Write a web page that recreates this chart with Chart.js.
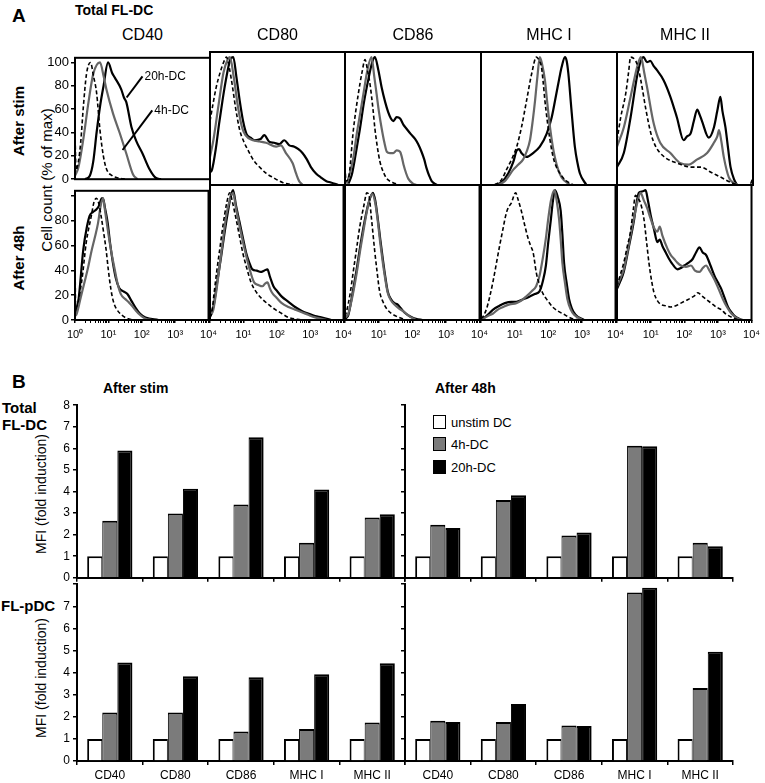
<!DOCTYPE html>
<html>
<head>
<meta charset="utf-8">
<script src="https://cdn.jsdelivr.net/npm/chart.js@4.4.1/dist/chart.umd.min.js"></script>
<style>
  body { margin: 0; background: #fff; }
  #fig { position: relative; width: 765px; height: 783px; overflow: hidden; background: #fff;
         font-family: 'Liberation Sans', Arial, sans-serif; color: #000; }
  #fig canvas { position: absolute; }
  .lbl { position: absolute; white-space: nowrap; line-height: 1; }
  .b { font-weight: bold; }
  .mid { transform: translate(-50%, -50%); }
  .left { transform: translate(0, -50%); }
  .rot { transform: translate(-50%, -50%) rotate(-90deg); }
  .key { position: absolute; width: 11px; height: 12px; border: 1.5px solid #000; }
</style>
</head>
<body>
<div id="fig">
  <div class="lbl b left" style="left:12px; top:15px; font-size:19px;">A</div>
  <div class="lbl b left" style="left:75px; top:10px; font-size:14px;">Total FL-DC</div>
  <div class="lbl b rot" style="left:18px; top:121px; font-size:15px;">After stim</div>
  <div class="lbl b rot" style="left:18px; top:258px; font-size:15px;">After 48h</div>
  <div class="lbl rot" style="left:46px; top:180px; font-size:15px;">Cell count (% of max)</div>

  <div class="lbl b left" style="left:12px; top:381px; font-size:19px;">B</div>
  <div class="lbl b left" style="left:103px; top:388px; font-size:14px;">After stim</div>
  <div class="lbl b left" style="left:435px; top:388px; font-size:14px;">After 48h</div>
  <div class="lbl b left" style="left:2px; top:407px; font-size:15px;">Total</div>
  <div class="lbl b left" style="left:2px; top:424px; font-size:15px;">FL-DC</div>
  <div class="lbl b left" style="left:1px; top:605px; font-size:15px;">FL-pDC</div>
  <div class="lbl rot" style="left:41px; top:494px; font-size:14px;">MFI (fold induction)</div>
  <div class="lbl rot" style="left:41px; top:678px; font-size:14px;">MFI (fold induction)</div>

  <div class="key" style="left:433px; top:415px; background:#fff;"></div>
  <div class="key" style="left:433px; top:437px; background:#7b7b7b;"></div>
  <div class="key" style="left:433px; top:460px; background:#000;"></div>
  <div class="lbl left" style="left:451px; top:422px; font-size:13px;">unstim DC</div>
  <div class="lbl left" style="left:451px; top:444px; font-size:13px;">4h-DC</div>
  <div class="lbl left" style="left:451px; top:467px; font-size:13px;">20h-DC</div>
</div>

<script>
// ---- shared labels ----
const markers = ['CD40', 'CD80', 'CD86', 'MHC I', 'MHC II'];
const decadeLabels = ['10⁰', '10¹', '10²', '10³', '10⁴'];
const histYTicks = [0, 20, 40, 60, 80, 100];
const mfiTicks = [0, 1, 2, 3, 4, 5, 6, 7, 8];

// ---- A: histograms, [log10 intensity, % of max] ----
// after stim
const stimCD40Unstim = [[0,40],[0.03,8],[0.1,15],[0.17,32],[0.25,63],[0.34,90],[0.46,100],[0.55,88],[0.64,74],[0.74,42],[0.84,20],[0.93,9],[1.1,3],[1.3,1],[1.5,0]];
const stimCD40_4h = [[0,3],[0.1,10],[0.25,35],[0.4,66],[0.54,90],[0.74,100],[0.85,88],[0.93,77],[1.13,56],[1.32,40],[1.52,22],[1.72,4],[1.85,0]];
const stimCD40_20h = [[0.3,0],[0.44,3],[0.54,15],[0.64,40],[0.74,62],[0.84,79],[0.98,100],[1.1,91],[1.18,87],[1.37,77],[1.45,70],[1.52,66],[1.67,45],[1.81,33],[2.0,22],[2.2,9],[2.4,1],[2.55,0]];

const stimCD80Unstim = [[0,50],[0.08,62],[0.18,76],[0.3,88],[0.42,97],[0.49,100],[0.57,92],[0.66,78],[0.76,60],[0.88,43],[1.0,34],[1.13,27],[1.3,19],[1.47,14],[1.67,9],[1.86,6],[2.15,2],[2.5,0]];
const stimCD80_4h = [[0,22],[0.1,35],[0.25,62],[0.4,88],[0.52,98],[0.59,100],[0.7,85],[0.83,61],[0.95,45],[1.05,39],[1.27,35],[1.47,34],[1.66,33],[1.96,30],[2.1,31],[2.25,25],[2.45,17],[2.55,9],[2.64,3],[2.75,0]];
const stimCD80_20h = [[0,10],[0.06,12],[0.17,28],[0.27,48],[0.37,66],[0.47,82],[0.6,98],[0.69,100],[0.78,85],[0.88,66],[0.98,50],[1.08,40],[1.2,37],[1.32,35],[1.5,36],[1.61,39],[1.75,34],[1.9,33],[2.05,32],[2.2,35],[2.35,31],[2.5,30],[2.62,28],[2.74,25],[2.87,20],[2.99,14],[3.14,9],[3.28,6],[3.45,3],[3.58,2],[3.8,0]];

const stimCD86Unstim = [[0,14],[0.03,3],[0.1,5],[0.25,44],[0.39,71],[0.5,88],[0.59,98],[0.66,90],[0.74,78],[0.82,60],[0.88,44],[0.95,30],[1.03,18],[1.13,10],[1.23,5],[1.4,2],[1.6,0]];
const stimCD86_4h = [[0.05,1],[0.15,10],[0.25,22],[0.34,39],[0.44,55],[0.54,71],[0.66,90],[0.78,100],[0.86,85],[0.93,71],[1.0,57],[1.08,44],[1.16,33],[1.23,26],[1.32,25],[1.42,25],[1.52,27],[1.62,26],[1.67,22],[1.72,16],[1.8,9],[1.86,5],[2.0,1],[2.1,0]];
const stimCD86_20h = [[0.1,1],[0.2,8],[0.32,25],[0.44,44],[0.56,65],[0.69,83],[0.8,96],[0.88,100],[0.98,90],[1.08,76],[1.18,65],[1.27,57],[1.35,52],[1.42,50],[1.52,53],[1.62,52],[1.72,47],[1.81,44],[1.93,40],[2.06,36],[2.15,32],[2.25,26],[2.33,20],[2.4,13],[2.48,7],[2.55,3],[2.7,0]];

const stimMHCIUnstim = [[0.4,0],[0.6,4],[0.75,12],[0.9,20],[1.05,30],[1.19,45],[1.34,66],[1.49,87],[1.63,100],[1.72,97],[1.78,92],[1.83,80],[1.88,66],[1.95,50],[2.03,35],[2.12,22],[2.22,14],[2.35,8],[2.47,4],[2.72,0]];
const stimMHCI_4h = [[0.5,0],[0.7,3],[0.95,12],[1.1,16],[1.24,20],[1.34,26],[1.44,35],[1.52,50],[1.59,66],[1.66,85],[1.73,100],[1.8,94],[1.88,82],[1.95,64],[2.03,45],[2.1,32],[2.17,22],[2.27,12],[2.37,6],[2.62,0]];
const stimMHCI_20h = [[0.4,0],[0.6,2],[0.8,9],[0.95,18],[1.05,27],[1.12,28],[1.19,25],[1.34,22],[1.53,25],[1.73,30],[1.93,40],[2.08,53],[2.22,72],[2.3,83],[2.37,92],[2.47,100],[2.52,97],[2.57,87],[2.66,59],[2.76,30],[2.84,17],[2.91,9],[3.1,0]];

const stimMHCIIUnstim = [[0,35],[0.11,53],[0.26,72],[0.34,88],[0.4,100],[0.55,97],[0.62,92],[0.7,82],[0.85,59],[1.0,40],[1.14,30],[1.39,22],[1.78,17],[2.18,14],[2.47,14],[2.76,10],[3.06,6],[3.35,2],[3.65,0],[3.9,0],[4,6]];
const stimMHCII_4h = [[0,30],[0.2,45],[0.4,69],[0.59,92],[0.7,100],[0.74,97],[0.8,88],[0.88,77],[1.08,48],[1.27,33],[1.57,25],[1.87,17],[2.11,16],[2.36,20],[2.65,25],[2.85,33],[2.95,38],[3.0,43],[3.07,34],[3.14,22],[3.29,6],[3.53,0]];
const stimMHCII_20h = [[0,14],[0.2,25],[0.4,53],[0.59,85],[0.7,97],[0.78,100],[0.88,96],[0.98,97],[1.08,93],[1.17,90],[1.37,82],[1.57,69],[1.76,53],[1.96,35],[2.06,38],[2.16,40],[2.26,50],[2.36,59],[2.43,55],[2.5,50],[2.7,37],[2.85,45],[2.95,58],[3.04,69],[3.1,58],[3.19,45],[3.27,28],[3.34,14],[3.45,4],[3.53,0]];

// after 48h
const lateCD40Unstim = [[0,47],[0.02,10],[0.2,31],[0.34,63],[0.49,84],[0.57,95],[0.64,98],[0.72,93],[0.78,84],[0.86,70],[0.93,57],[1.0,40],[1.08,24],[1.15,15],[1.22,10],[1.4,4],[1.6,1],[1.9,0]];
const lateCD40_4h = [[0,3],[0.05,5],[0.17,18],[0.29,31],[0.39,42],[0.49,55],[0.59,66],[0.69,78],[0.77,92],[0.84,98],[0.9,88],[0.98,73],[1.08,56],[1.18,42],[1.27,30],[1.37,21],[1.5,17],[1.62,14],[1.72,11],[1.81,8],[1.95,4],[2.11,1],[2.3,0]];
const lateCD40_20h = [[0,5],[0.1,15],[0.25,57],[0.35,74],[0.44,84],[0.54,87],[0.64,89],[0.72,92],[0.8,98],[0.84,98],[0.9,90],[0.98,78],[1.05,62],[1.13,47],[1.22,34],[1.32,26],[1.45,23],[1.57,21],[1.7,15],[1.81,10],[1.95,5],[2.11,2],[2.5,0]];

const lateCD80Unstim = [[0,2],[0.05,5],[0.12,20],[0.2,37],[0.3,56],[0.39,73],[0.5,90],[0.59,98],[0.68,90],[0.78,78],[0.88,65],[0.98,52],[1.1,40],[1.23,29],[1.4,21],[1.57,16],[1.75,12],[1.96,8],[2.15,5],[2.35,2],[2.75,0]];
const lateCD80_4h = [[0,3],[0.1,8],[0.2,24],[0.29,42],[0.39,62],[0.49,81],[0.6,93],[0.69,98],[0.78,86],[0.88,73],[0.98,61],[1.08,50],[1.2,38],[1.32,29],[1.45,27],[1.57,26],[1.65,28],[1.72,29],[1.8,24],[1.86,21],[2.0,17],[2.15,13],[2.35,10],[2.55,8],[2.75,6],[2.94,4],[3.15,2],[3.33,1],[3.5,0]];
const lateCD80_20h = [[0,4],[0.1,10],[0.22,30],[0.34,50],[0.44,68],[0.54,84],[0.62,95],[0.69,100],[0.78,88],[0.88,76],[0.98,64],[1.08,52],[1.18,44],[1.27,39],[1.4,38],[1.52,37],[1.62,38],[1.72,39],[1.8,33],[1.9,26],[2.02,22],[2.15,18],[2.35,14],[2.55,10],[2.75,7],[2.94,5],[3.15,3],[3.33,2],[3.63,0]];

const lateCD86Unstim = [[0,3],[0.05,7],[0.15,20],[0.25,38],[0.35,56],[0.44,72],[0.56,88],[0.65,98],[0.72,95],[0.78,80],[0.83,67],[0.88,54],[0.95,38],[1.03,22],[1.13,14],[1.23,9],[1.38,5],[1.52,3],[1.81,0]];
const lateCD86_4h = [[0.02,2],[0.1,5],[0.22,18],[0.34,35],[0.46,55],[0.59,75],[0.7,90],[0.81,97],[0.9,90],[0.98,75],[1.05,59],[1.13,43],[1.2,31],[1.27,21],[1.37,15],[1.47,12],[1.6,9],[1.72,7],[1.91,3],[2.11,0]];
const lateCD86_20h = [[0.02,1],[0.1,4],[0.22,20],[0.34,38],[0.46,58],[0.59,77],[0.7,90],[0.83,98],[0.9,92],[0.98,77],[1.05,62],[1.13,46],[1.2,33],[1.27,22],[1.37,16],[1.47,13],[1.56,12],[1.66,9],[1.76,6],[1.86,4],[2.0,2],[2.11,1],[2.3,0]];

const lateMHCIUnstim = [[0,1],[0.07,3],[0.17,9],[0.26,18],[0.36,30],[0.46,44],[0.56,58],[0.66,71],[0.73,80],[0.8,86],[0.9,90],[1.03,98],[1.1,93],[1.2,84],[1.3,73],[1.4,63],[1.48,57],[1.55,52],[1.6,44],[1.64,37],[1.73,28],[1.83,21],[1.98,15],[2.13,10],[2.28,7],[2.42,5],[2.72,1],[2.9,0]];
const lateMHCI_4h = [[0.02,0],[0.07,1],[0.2,3],[0.36,5],[0.5,8],[0.66,10],[0.85,12],[1.05,13],[1.2,15],[1.34,18],[1.5,22],[1.64,26],[1.74,34],[1.84,48],[1.93,63],[2.0,78],[2.08,92],[2.18,100],[2.25,92],[2.32,78],[2.37,62],[2.42,44],[2.5,28],[2.57,16],[2.67,8],[2.77,4],[3.01,0]];
const lateMHCI_20h = [[0.02,0],[0.07,1],[0.2,4],[0.36,8],[0.55,11],[0.71,13],[0.9,14],[1.05,14],[1.25,16],[1.44,18],[1.6,20],[1.74,22],[1.84,30],[1.93,42],[2.0,60],[2.08,78],[2.14,92],[2.2,100],[2.28,95],[2.37,84],[2.42,66],[2.47,44],[2.55,28],[2.62,16],[2.7,9],[2.81,4],[3.06,0]];

const lateMHCIIUnstim = [[0,26],[0.1,35],[0.2,44],[0.3,56],[0.4,68],[0.48,84],[0.55,96],[0.62,94],[0.7,90],[0.8,78],[0.88,60],[0.95,44],[1.03,30],[1.1,21],[1.2,15],[1.3,12],[1.45,11],[1.6,10],[1.75,11],[1.9,13],[2.05,15],[2.2,17],[2.32,19],[2.4,21],[2.47,20],[2.55,18],[2.65,16],[2.8,13],[2.95,10],[3.1,8],[3.22,5],[3.34,3],[3.6,0]];
const lateMHCII_4h = [[0,26],[0.1,32],[0.2,39],[0.35,58],[0.5,78],[0.6,90],[0.7,98],[0.8,92],[0.9,86],[1.0,78],[1.1,71],[1.2,68],[1.27,72],[1.35,65],[1.5,55],[1.6,50],[1.7,47],[1.8,44],[1.9,42],[2.05,41],[2.2,42],[2.32,38],[2.45,37],[2.55,40],[2.65,42],[2.75,38],[2.9,31],[3.02,24],[3.15,16],[3.27,10],[3.4,5],[3.6,1],[3.75,0]];
const lateMHCII_20h = [[0,24],[0.1,30],[0.2,37],[0.35,56],[0.5,76],[0.58,90],[0.65,98],[0.75,99],[0.85,100],[0.92,92],[1.0,81],[1.1,70],[1.2,60],[1.27,62],[1.35,57],[1.45,52],[1.55,47],[1.65,43],[1.8,39],[1.9,40],[2.0,42],[2.12,44],[2.25,47],[2.35,52],[2.45,56],[2.55,52],[2.65,50],[2.78,42],[2.9,34],[3.0,29],[3.1,24],[3.2,17],[3.3,10],[3.4,6],[3.5,3],[3.7,0]];

// callouts in the CD40 "after stim" panel, in data units
const callouts = [
  { text: '20h-DC', from: [1.53, 70], to: [2.0, 88] },
  { text: '4h-DC', from: [1.41, 25], to: [2.29, 59] }
];

// ---- B: MFI fold induction ----
const unstim = [1, 1, 1, 1, 1];
const totalStim4h = [2.65, 2.98, 3.4, 1.62, 2.79];
const totalStim20h = [5.9, 4.13, 6.52, 4.09, 2.94];
const totalLate4h = [2.46, 3.61, 1.96, 6.12, 1.62];
const totalLate20h = [2.31, 3.83, 2.1, 6.1, 1.46];
const pdcStim4h = [2.19, 2.19, 1.34, 1.45, 1.74];
const pdcStim20h = [4.46, 3.83, 3.79, 3.93, 4.42];
const pdcLate4h = [1.82, 1.76, 1.61, 7.62, 3.3];
const pdcLate20h = [1.77, 2.58, 1.58, 7.84, 4.94];

// ---- layout ----
const fig = document.getElementById('fig');
const colEdges = [75, 210, 345, 481, 617, 753];
const rowEdges = [52, 185, 320];

function addCanvas(left, top, width, height) {
  const c = document.createElement('canvas');
  c.width = width;
  c.height = height;
  c.style.left = left + 'px';
  c.style.top = top + 'px';
  c.style.width = width + 'px';
  c.style.height = height + 'px';
  fig.appendChild(c);
  return c;
}

const toXY = (pts) => pts.map(([x, y]) => ({ x, y }));

// minor log ticks inside each decade
const xTickValues = [];
for (let n = 0; n < 4; n++) {
  for (let k = 1; k < 10; k++) xTickValues.push(n + Math.log10(k));
}
xTickValues.push(4);

const frame = {
  id: 'frame',
  afterDatasetsDraw(chart) {
    const { ctx, chartArea: a } = chart;
    ctx.save();
    ctx.strokeStyle = '#000';
    ctx.lineWidth = 2;
    ctx.strokeRect(a.left, a.top, a.right - a.left, a.bottom - a.top);
    ctx.restore();
  }
};

const calloutPlugin = {
  id: 'callouts',
  afterDatasetsDraw(chart, args, opts) {
    if (!opts.items) return;
    const { ctx, scales: { x, y } } = chart;
    ctx.save();
    ctx.strokeStyle = '#000';
    ctx.fillStyle = '#000';
    ctx.lineWidth = 2;
    ctx.font = '12px "Liberation Sans", Arial, sans-serif';
    ctx.textBaseline = 'middle';
    opts.items.forEach((c) => {
      const x1 = x.getPixelForValue(c.from[0]), y1 = y.getPixelForValue(c.from[1]);
      const x2 = x.getPixelForValue(c.to[0]), y2 = y.getPixelForValue(c.to[1]);
      ctx.beginPath();
      ctx.moveTo(x1, y1);
      ctx.lineTo(x2, y2);
      ctx.stroke();
      ctx.fillText(c.text, x2 + 2, y2);
    });
    ctx.restore();
  }
};

function makeHistogram(row, col, curves, items) {
  const showY = col === 0, showX = row === 1;
  const padL = showY ? 40 : 10;
  const padR = 12, padT = 4;
  const padB = showX ? 24 : 4;
  const w = colEdges[col + 1] - colEdges[col];
  const h = rowEdges[row + 1] - rowEdges[row];
  const canvas = addCanvas(colEdges[col] - padL, rowEdges[row] - padT, w + padL + padR, h + padT + padB);

  new Chart(canvas, {
    type: 'line',
    data: {
      datasets: [
        { data: toXY(curves[0]), borderColor: '#000', borderWidth: 1.6, borderDash: [4, 2.5] },
        { data: toXY(curves[1]), borderColor: '#666', borderWidth: 2.2 },
        { data: toXY(curves[2]), borderColor: '#000', borderWidth: 2.2 }
      ]
    },
    options: {
      responsive: false,
      animation: false,
      layout: { padding: { left: showY ? 0 : padL, right: padR, top: padT, bottom: showX ? 0 : padB } },
      elements: { point: { radius: 0 }, line: { cubicInterpolationMode: 'monotone' } },
      plugins: { legend: { display: false }, tooltip: { enabled: false }, callouts: { items } },
      scales: {
        x: {
          type: 'linear', min: 0, max: 4, display: showX,
          afterFit: (s) => { s.height = showX ? padB : 0; },
          afterBuildTicks: (s) => { s.ticks = xTickValues.map((v) => ({ value: v })); },
          grid: {
            drawOnChartArea: false, tickLength: 3, color: '#000',
            lineWidth: (ctx) => (ctx.tick && Number.isInteger(ctx.tick.value) ? 1.5 : 1)
          },
          border: { display: false },
          ticks: {
            autoSkip: false, maxRotation: 0, padding: 5, color: '#000',
            font: { size: 11, family: 'Liberation Sans' },
            callback: (v) => (Number.isInteger(v) && (v > 0 || col === 0) ? decadeLabels[v] : '')
          }
        },
        y: {
          min: 0, max: 104, display: showY,
          afterFit: (s) => { s.width = showY ? padL : 0; },
          afterBuildTicks: (s) => { s.ticks = histYTicks.map((v) => ({ value: v })); },
          grid: { drawOnChartArea: false, tickLength: 4, color: '#000', lineWidth: 1.5 },
          border: { display: false },
          ticks: {
            padding: 2, color: '#000', font: { size: 13, family: 'Liberation Sans' },
            callback: (v) => (row === 1 && v === 100 ? '' : v)
          }
        }
      }
    },
    plugins: [frame, calloutPlugin]
  });
}

const histRows = [
  [
    [stimCD40Unstim, stimCD40_4h, stimCD40_20h],
    [stimCD80Unstim, stimCD80_4h, stimCD80_20h],
    [stimCD86Unstim, stimCD86_4h, stimCD86_20h],
    [stimMHCIUnstim, stimMHCI_4h, stimMHCI_20h],
    [stimMHCIIUnstim, stimMHCII_4h, stimMHCII_20h]
  ],
  [
    [lateCD40Unstim, lateCD40_4h, lateCD40_20h],
    [lateCD80Unstim, lateCD80_4h, lateCD80_20h],
    [lateCD86Unstim, lateCD86_4h, lateCD86_20h],
    [lateMHCIUnstim, lateMHCI_4h, lateMHCI_20h],
    [lateMHCIIUnstim, lateMHCII_4h, lateMHCII_20h]
  ]
];

histRows.forEach((curvesByCol, row) => {
  curvesByCol.forEach((curves, col) => {
    makeHistogram(row, col, curves, row === 0 && col === 0 ? callouts : null);
  });
});

// column headers
markers.forEach((m, i) => {
  const d = document.createElement('div');
  d.className = 'lbl mid';
  d.style.left = (colEdges[i] + colEdges[i + 1]) / 2 + 'px';
  d.style.top = '35px';
  d.style.fontSize = '16px';
  d.textContent = m;
  fig.appendChild(d);
});

// ---- B: bar panels ----
const barEdges = { left: [77, 405], top: [403, 582] };

function makeBars(row, col, vals4h, vals20h) {
  const plotW = 328, plotH = 179;
  const padL = col === 0 ? 50 : 10;
  const padR = 4, padT = 8;
  const padB = row === 1 ? 24 : 6;
  const canvas = addCanvas(barEdges.left[col] - padL, barEdges.top[row] - padT, plotW + padL + padR, plotH + padT + padB);

  const edge = (l, r) => ({ top: 2, left: l, right: r, bottom: 0 });
  new Chart(canvas, {
    type: 'bar',
    data: {
      labels: markers,
      datasets: [
        { label: 'unstim DC', data: unstim, backgroundColor: '#fff', borderWidth: edge(2, 1) },
        { label: '4h-DC', data: vals4h, backgroundColor: '#7b7b7b', borderWidth: edge(1, 1) },
        { label: '20h-DC', data: vals20h, backgroundColor: '#000', borderWidth: edge(1, 2) }
      ]
    },
    options: {
      responsive: false,
      animation: false,
      layout: { padding: { left: 0, right: padR, top: padT, bottom: 0 } },
      datasets: { bar: { borderColor: '#000', borderSkipped: false, categoryPercentage: 0.69, barPercentage: 1 } },
      plugins: { legend: { display: false }, tooltip: { enabled: false } },
      scales: {
        x: {
          afterFit: (s) => { s.height = padB; },
          grid: { offset: true, drawOnChartArea: false, tickLength: 4, color: '#000', lineWidth: 1.5 },
          border: { color: '#000', width: 2 },
          ticks: {
            display: row === 1, autoSkip: false, maxRotation: 0, padding: 3, color: '#000',
            font: { size: 12, family: 'Liberation Sans' }
          }
        },
        y: {
          min: 0, max: 8,
          afterFit: (s) => { s.width = padL; },
          afterBuildTicks: (s) => { s.ticks = mfiTicks.map((v) => ({ value: v })); },
          grid: { drawOnChartArea: false, tickLength: 4, color: '#000', lineWidth: 1.5 },
          border: { color: '#000', width: 2 },
          ticks: {
            padding: 3, color: '#000', font: { size: 12, family: 'Liberation Sans' },
            callback: (v) => (col === 0 && !(row === 1 && v === 8) ? v : '')
          }
        }
      }
    }
  });
}

makeBars(0, 0, totalStim4h, totalStim20h);
makeBars(0, 1, totalLate4h, totalLate20h);
makeBars(1, 0, pdcStim4h, pdcStim20h);
makeBars(1, 1, pdcLate4h, pdcLate20h);
</script>
</body>
</html>
